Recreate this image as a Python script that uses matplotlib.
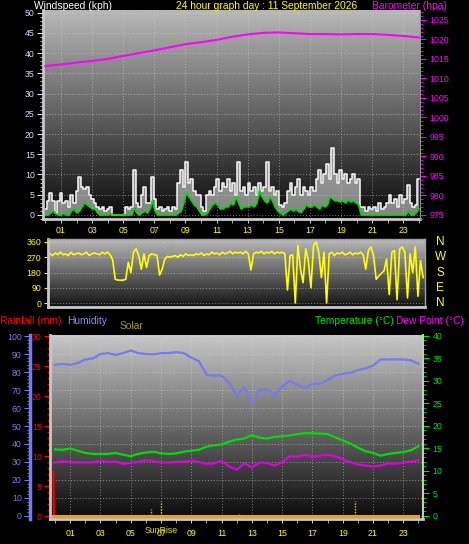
import numpy as np
import matplotlib
matplotlib.use("Agg")
from matplotlib import pyplot as plt
from matplotlib import transforms
from matplotlib.ticker import MultipleLocator, FixedLocator

plt.rcParams['font.family'] = ['Liberation Sans', 'DejaVu Sans']

# ---- data ----
# wind gust / average speed (kph), one value every 10 minutes
GUST = [1.5, 3.5, 5.5, 3.5, 0.5, 3.5,
        5.5, 3, 3.5, 2, 5, 3,
        6, 9.5, 7, 6.5, 7, 5,
        4, 3, 2, 1.5, 2, 1,
        1.5, 2, 0, 0, 0, 0,
        0, 2, 1.5, 2, 11, 3,
        2, 5, 7, 3, 3, 9.5,
        4, 1.5, 2, 1, 1.5, 2,
        1, 2, 1.5, 8, 11, 7,
        13, 8, 9, 6, 5, 5,
        2, 1, 5, 6, 5, 7,
        9, 6, 8, 7, 9, 6,
        8, 5, 13, 6, 7, 5,
        8, 6, 7, 5, 8, 6,
        7, 13, 6, 7, 5, 6,
        2.5, 2, 3, 6, 8, 5,
        7, 9, 5, 7, 6, 5,
        7, 6, 9, 11, 8, 10,
        12.5, 9, 16.5, 10, 8, 11,
        9, 10, 8, 9, 10, 8,
        9, 2, 2, 1, 2, 1.5,
        2, 1, 3, 1.5, 2, 3,
        5, 3, 4, 2, 5, 3,
        4, 7.5, 3, 2, 2.5, 9]
AVG = [0, 0, 0.5, 1, 0.3, 0,
       0, 0.5, 0, 0, 1, 1.5,
       0.5, 1, 2, 3, 2.5, 2,
       1.5, 1.5, 0.5, 0, 0, 0,
       0, 0.3, 0, 0, 0, 0,
       0, 0, 0, 0, 1.8, 0.5,
       0, 0.5, 1, 0.5, 1.5, 3.5,
       1, 0, 0, 0, 0, 0,
       0, 0, 0, 0.5, 1, 3,
       5.5, 4.5, 3.5, 2.5, 2, 1,
       0, 0, 0.5, 1.5, 2.5, 3,
       2.5, 1.5, 1.5, 2, 2, 3,
       2.5, 4.5, 3, 1.5, 2, 2,
       2, 2.5, 2, 3, 6, 4.5,
       3.5, 3, 4.5, 3.5, 2, 1,
       0.5, 0, 0.5, 1, 1.5, 1,
       1.5, 0.8, 0.7, 1.5, 2.5, 2,
       2, 2.5, 2, 1.5, 2.5, 2,
       2.5, 4.5, 4, 3.5, 3.5, 3.2,
       3.5, 3, 3.8, 3.2, 3.5, 3,
       2.5, 0, 0, 0, 0, 0,
       0, 0, 0, 0, 0, 0,
       0, 0, 0, 0, 0, 0,
       0, 1, 0, 0, 0.5, 1.5]
# wind direction (degrees), every 10 minutes
DIRECTION = [290, 280, 295, 285, 300, 285,
             290, 280, 300, 285, 290, 295,
             285, 290, 300, 280, 290, 295,
             290, 285, 300, 290, 300, 285,
             255, 140, 135, 135, 135, 140,
             240, 180, 300, 320, 280, 200,
             290, 210, 280, 290, 285, 280,
             165, 200, 260, 275, 270, 275,
             280, 270, 285, 275, 290, 280,
             285, 280, 290, 285, 295, 280,
             290, 285, 300, 290, 295, 285,
             300, 290, 295, 305, 290, 300,
             295, 300, 290, 305, 290, 195,
             290, 300, 295, 305, 290, 300,
             295, 305, 290, 300, 295, 300,
             290, 77, 280, 285, 0, 340,
             200, 120, 320, 250, 90, 340,
             360, 300, 150, 300, 0, 290,
             300, 280, 295, 290, 300, 285,
             290, 300, 285, 295, 290, 300,
             285, 200, 310, 330, 280, 140,
             160, 175, 190, 260, 50, 300,
             310, 20, 320, 330, 300, 30,
             290, 180, 330, 40, 250, 150]
# barometer (hPa), hourly 00..24
BARO = [1013.2, 1013.6, 1014.1, 1014.5, 1015.0, 1015.8, 1016.5, 1017.2,
        1018.0, 1018.8, 1019.3, 1019.9, 1020.7, 1021.3, 1021.7, 1021.8,
        1021.6, 1021.4, 1021.4, 1021.3, 1021.4, 1021.4, 1021.2, 1020.9, 1020.5]
# humidity (%), temperature and dew point (C), every 30 minutes 00..24
HUMIDITY = [84, 84.5, 84, 85, 87, 87.5, 90, 90.5, 89.5, 90.5, 92, 90.5,
            90, 89.8, 90.5, 90.5, 91, 90.5, 88, 86, 78.5, 78, 78, 74,
            67, 71.5, 63, 70, 70.5, 67, 72, 75, 73, 71, 73.5, 73.5,
            75.5, 78, 79, 79.5, 81, 82, 83.5, 87, 87, 87, 87, 86.5, 84.5]
TEMP = [14.8, 14.7, 15.0, 14.5, 14.0, 13.8, 13.8, 13.8, 14.0, 13.6, 13.3, 13.8,
        14.1, 14.3, 13.9, 13.8, 13.9, 14.3, 14.5, 14.7, 15.4, 15.7, 15.9, 16.5,
        17.0, 17.2, 18.0, 17.4, 17.2, 17.6, 17.7, 17.9, 18.2, 18.4, 18.4, 18.3,
        18.2, 17.5, 16.8, 16.1, 15.2, 14.4, 14.0, 13.4, 13.8, 14.0, 14.2, 14.6, 15.5]
DEW = [11.9, 12.2, 12.0, 11.9, 11.9, 11.9, 12.3, 12.0, 12.1, 11.6, 11.8, 12.0,
       12.4, 12.2, 11.9, 11.9, 12.0, 12.1, 12.3, 12.0, 11.6, 11.7, 12.3, 11.0,
       10.3, 11.7, 10.8, 11.9, 11.8, 11.2, 12.0, 13.3, 13.2, 13.6, 13.2, 13.4,
       13.6, 13.3, 12.6, 12.0, 11.4, 11.2, 11.0, 11.2, 11.7, 11.6, 11.9, 12.1, 12.4]
RAIN_HOURS = [-0.1, -0.08, 24.0]
RAIN = [7.3, 0.0, 0.0]
SOLAR_HOURS = [-0.1, 24.0]
SOLAR = [0, 0]
SUN_HOURS = [6.35, 7.0, 12.15, 19.8]
SUN_MARK = [3.9, 8.3, 1.1, 8.3]
HOURS = [1, 3, 5, 7, 9, 11, 13, 15, 17, 19, 21, 23]
HOUR_LABELS = ['01', '03', '05', '07', '09', '11', '13', '15', '17', '19', '21', '23']
COMPASS_DEG = [360, 270, 180, 90, 0]
COMPASS = ['N', 'W', 'S', 'E', 'N']

W, H = 469, 544
BORDER = '#c8c8c8'
GRID = dict(color='#d8d8d8', ls=(0, (1, 2)), lw=0.7, alpha=0.55)
YEL = '#ffff00'
MAG = '#ff00ff'
GRN = '#00e000'
BLU = '#7878f0'
TFS = 7.4   # title / legend text size
KFS = 6.3   # tick label size


def box(x0, y0, x1, y1):
    return [x0 / W, 1 - y1 / H, (x1 - x0) / W, (y1 - y0) / H]


def shade(ax, top, bottom):
    g = np.linspace(top, bottom, 256).reshape(-1, 1)
    ax.imshow(g, cmap='gray', vmin=0, vmax=1, extent=[0, 1, 0, 1],
              transform=ax.transAxes, aspect='auto', zorder=-10,
              interpolation='bilinear')


def hour_axis(ax, labelcolor):
    ax.xaxis.set_major_locator(FixedLocator(HOURS))
    ax.set_xticklabels(HOUR_LABELS)
    ax.xaxis.set_minor_locator(MultipleLocator(1))
    ax.tick_params(axis='x', which='both', colors=BORDER, labelcolor=labelcolor,
                   labelsize=KFS, length=3, pad=2)


fig = plt.figure(figsize=(W / 100, H / 100), dpi=100, facecolor='black')

# ---- panel 1: wind speed + barometer ----
ax1 = fig.add_axes(box(43, 10, 420, 219))
shade(ax1, 0.72, 0.04)
wt = np.linspace(0, 24, len(GUST))
ax1.fill_between(wt, AVG, GUST, step='mid', color='#e8e8e8', alpha=0.55, lw=0)
ax1.step(wt, GUST, where='mid', color='#f8f8f8', lw=1.1)
ax1.fill_between(wt, -1, AVG, color='black', lw=0)
ax1.plot(wt, AVG, color=GRN, lw=1.3)
ax1.set_xlim(-0.16, 24.08)
ax1.set_ylim(-1.0, 50.65)
ax1.yaxis.set_major_locator(FixedLocator(range(0, 51, 5)))
ax1.yaxis.set_minor_locator(MultipleLocator(1))
ax1.tick_params(axis='y', which='both', colors='#dcdcff', labelsize=KFS, pad=2)
ax1.tick_params(axis='y', which='major', length=4)
ax1.tick_params(axis='y', which='minor', length=2)
hour_axis(ax1, YEL)
ax1.grid(True, which='major', **GRID)
for s in ['top', 'right']:
    ax1.spines[s].set_visible(False)
for s in ['left', 'bottom']:
    ax1.spines[s].set_color(BORDER)
    ax1.spines[s].set_linewidth(2)

ax1b = ax1.twinx()
bt = np.arange(len(BARO))
ax1b.plot(bt, BARO, color=MAG, lw=1.5)
ax1b.set_ylim(973.97, 1027.56)
ax1b.yaxis.set_major_locator(FixedLocator(range(975, 1026, 5)))
ax1b.yaxis.set_minor_locator(MultipleLocator(1))
ax1b.tick_params(axis='y', which='both', colors=MAG, labelsize=KFS, pad=3)
ax1b.tick_params(axis='y', which='major', length=4)
ax1b.tick_params(axis='y', which='minor', length=2)
for s in ['top', 'left', 'bottom']:
    ax1b.spines[s].set_visible(False)
ax1b.spines['right'].set_color('#909090')

fig.text(34 / W, 1 - 6 / H, 'Windspeed (kph)', color='white', fontsize=TFS,
         ha='left', va='center')
fig.text(267 / W, 1 - 6 / H, '24 hour graph day : 11 September 2026', color=YEL,
         fontsize=TFS, ha='center', va='center')
fig.text(447 / W, 1 - 6 / H, 'Barometer (hpa)', color=MAG, fontsize=TFS,
         ha='right', va='center')

# ---- panel 2: wind direction ----
ax2 = fig.add_axes(box(48, 239, 425, 307))
shade(ax2, 0.72, 0.07)
dt = np.linspace(0, 24, len(DIRECTION))
ax2.plot(dt, DIRECTION, color=YEL, lw=1.2)
ax2.set_xlim(-0.13, 24.12)
ax2.set_ylim(-23.6, 377.7)
ax2.set_yticks([0, 90, 180, 270, 360])
ax2.set_xticks([])
ax2.tick_params(axis='y', colors=YEL, labelsize=KFS, length=3, pad=2)
ax2.grid(True, axis='y', **GRID)
for s in ['left', 'bottom']:
    ax2.spines[s].set_color(BORDER)
    ax2.spines[s].set_linewidth(2)
for s in ['top', 'right']:
    ax2.spines[s].set_color('#a0a0a0')
    ax2.spines[s].set_linewidth(1)
tr = transforms.blended_transform_factory(ax2.transAxes, ax2.transData)
for d, c in zip(COMPASS_DEG, COMPASS):
    ax2.text(1.04, d, c, transform=tr, color=YEL, fontsize=8.5,
             ha='center', va='center')

# ---- panel 3: humidity, rain, temperature, dew point ----
ax3 = fig.add_axes(box(50, 335, 423, 519))
shade(ax3, 0.78, 0.04)
ht = np.linspace(0, 24, len(HUMIDITY))
ax3.plot(ht, HUMIDITY, color=BLU, lw=1.6)
for h, m in zip(SUN_HOURS, SUN_MARK):
    ax3.plot([h, h], [-3, m], color='#d8d800', lw=1, ls=(0, (1, 1)))
ax3.set_xlim(-0.33, 24.3)
ax3.set_ylim(-1.67, 100.56)
ax3.yaxis.set_major_locator(FixedLocator(range(0, 101, 10)))
ax3.yaxis.set_minor_locator(MultipleLocator(2))
ax3.tick_params(axis='y', which='both', colors=BLU, labelsize=KFS, pad=2)
ax3.tick_params(axis='y', which='major', length=4)
ax3.tick_params(axis='y', which='minor', length=2)
hour_axis(ax3, YEL)
ax3.tick_params(axis='x', pad=4)
ax3.grid(True, which='major', **GRID)
ax3.spines['left'].set_position(('axes', -20 / 373))
ax3.spines['left'].set_color(BLU)
ax3.spines['left'].set_linewidth(2.5)
ax3.spines['bottom'].set_color(BORDER)
ax3.spines['bottom'].set_linewidth(2)
for s in ['top', 'right']:
    ax3.spines[s].set_visible(False)

ax3r = ax3.twinx()
ax3r.yaxis.tick_left()
ax3r.plot(RAIN_HOURS, RAIN, color='#ff0000', lw=1.5)
ax3r.set_ylim(-0.5, 30.17)
ax3r.yaxis.set_major_locator(FixedLocator(range(0, 31, 5)))
ax3r.yaxis.set_minor_locator(MultipleLocator(1))
ax3r.tick_params(axis='y', which='both', colors='#ff0000', labelsize=KFS, pad=2)
ax3r.tick_params(axis='y', which='major', length=4)
ax3r.tick_params(axis='y', which='minor', length=2)
for s in ['top', 'right', 'bottom']:
    ax3r.spines[s].set_visible(False)
ax3r.spines['left'].set_color(BORDER)
ax3r.spines['left'].set_linewidth(2)

ax3t = ax3.twinx()
ax3t.plot(ht, TEMP, color=GRN, lw=1.6)
ax3t.plot(ht, DEW, color='#e000e0', lw=1.6)
ax3t.plot(SOLAR_HOURS, SOLAR, color='#ff9900', lw=2.2)
ax3t.set_ylim(-0.67, 40.22)
ax3t.yaxis.set_major_locator(FixedLocator(range(0, 41, 5)))
ax3t.yaxis.set_minor_locator(MultipleLocator(1))
ax3t.tick_params(axis='y', which='both', colors=GRN, labelsize=KFS, pad=3)
ax3t.tick_params(axis='y', which='major', length=4)
ax3t.tick_params(axis='y', which='minor', length=2)
for s in ['top', 'left', 'bottom']:
    ax3t.spines[s].set_visible(False)
ax3t.spines['right'].set_color(BORDER)
ax3t.spines['right'].set_linewidth(1.5)

ax3.text(7.0, -0.062, 'SunRise', transform=transforms.blended_transform_factory(
    ax3.transData, ax3.transAxes), color='#e0e000', fontsize=KFS,
    ha='center', va='center')

fig.text(0 / W, 1 - 321 / H, 'Rainfall (mm)', color='#ff0000', fontsize=TFS,
         ha='left', va='center')
fig.text(67 / W, 1 - 321 / H, 'Humidity', color='#8888ff', fontsize=TFS,
         ha='left', va='center')
fig.text(120 / W, 1 - 326 / H, 'Solar', color='#a0a000', fontsize=TFS,
         ha='left', va='center')
fig.text(394 / W, 1 - 321 / H, 'Temperature (\u00b0C)', color=GRN, fontsize=TFS,
         ha='right', va='center')
fig.text(396 / W, 1 - 321 / H, 'Dew Point (\u00b0C)', color=MAG, fontsize=TFS,
         ha='left', va='center')

fig.savefig('out.png', dpi=100, facecolor='black')
